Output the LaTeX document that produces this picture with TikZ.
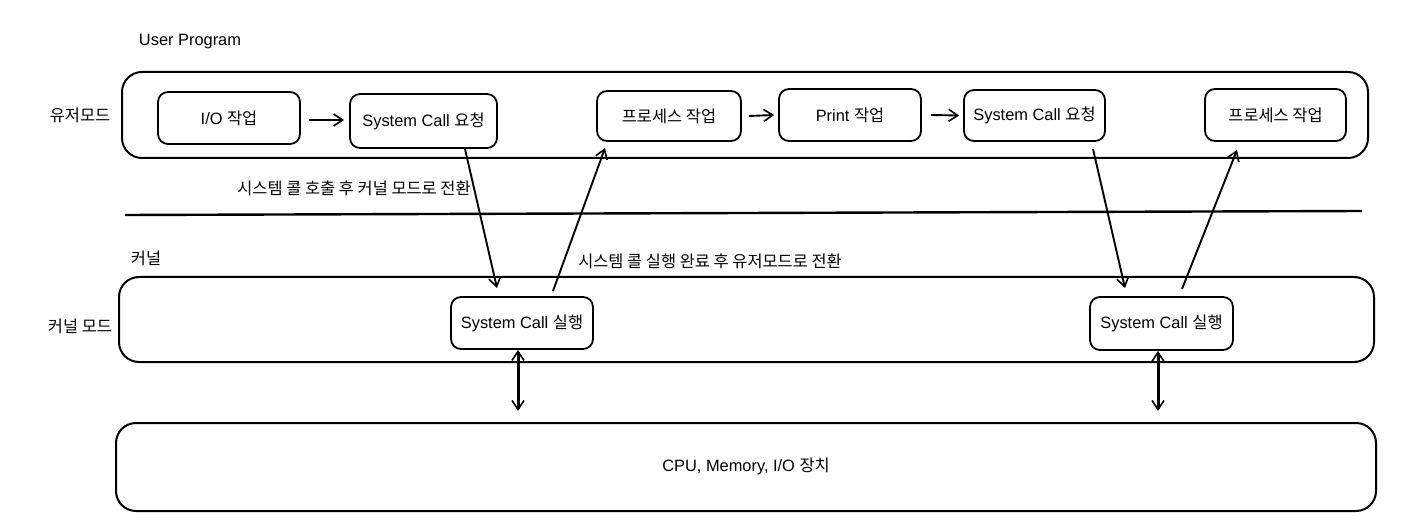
\documentclass[tikz,border=0pt]{standalone}
\usepackage{fontspec}
\setmainfont{Liberation Sans}
\newfontfamily\kr{Noto Sans CJK KR}
\usetikzlibrary{arrows.meta,calc}
\begin{document}
\begin{tikzpicture}[x=1pt,y=-1pt,
  every node/.style={font=\fontsize{16.4}{18}\selectfont, text=black},
  lane/.style={draw, line width=2pt, rounded corners=20pt, inner sep=0pt},
  task/.style={draw, line width=1.8pt, rounded corners=10pt, inner sep=0pt},
  lbl/.style={inner sep=0pt},
  arr/.style={line width=1.9pt, -{Straight Barb[length=9pt,width=12pt,line width=1.6pt]}},
  darr/.style={line width=3pt, {Straight Barb[length=9pt,width=12pt,line width=1.6pt]}-{Straight Barb[length=9pt,width=12pt,line width=1.6pt]}}
]
\useasboundingbox (0,0) rectangle (1402,529);
% lanes
\node[lane, minimum width=1246pt, minimum height=86pt] (user) at (745,115) {};
\node[lane, minimum width=1255pt, minimum height=85pt] (kernel) at (746.5,319.5) {};
\node[lane, minimum width=1260pt, minimum height=88pt] (hw) at (746,467) {};
\node (hwt) at (746,466) {CPU, Memory, I/O {\kr 장치}};
% labels
\node[lbl] (lup) at (190,42) {User Program};
\node[lbl] (lum) at (80,115) {\kr 유저모드};
\node[lbl] (lk) at (146,258) {\kr 커널};
\node[lbl] (lkm) at (80,326) {\kr 커널 모드};
\node[lbl] (t1) at (354,188) {\kr 시스템 콜 호출 후 커널 모드로 전환};
\node[lbl] (t2) at (710,261) {\kr 시스템 콜 실행 완료 후 유저모드로 전환};
% separator
\coordinate (sepL) at (125,215);
\coordinate (sepR) at (1362,211);
\draw[line width=2.4pt] (sepL) -- (sepR);
% tasks
\node[task, minimum width=142pt, minimum height=52pt] (io) at (229,118) {I/O {\kr 작업}};
\node[task, minimum width=147pt, minimum height=54pt] (req1) at (423.5,121) {System Call {\kr 요청}};
\node[task, minimum width=144pt, minimum height=50pt] (p1) at (669,116) {\kr 프로세스 작업};
\node[task, minimum width=142pt, minimum height=52pt] (pr) at (850,115) {Print {\kr 작업}};
\node[task, minimum width=141pt, minimum height=51pt] (req2) at (1034.5,115.5) {System Call {\kr 요청}};
\node[task, minimum width=141pt, minimum height=52pt] (p2) at (1275.5,115) {\kr 프로세스 작업};
\node[task, minimum width=142pt, minimum height=52pt] (ex1) at (522,323) {System Call {\kr 실행}};
\node[task, minimum width=143pt, minimum height=53pt] (ex2) at (1161.5,323.5) {System Call {\kr 실행}};
% horizontal arrows
\draw[arr] ([xshift=8pt,yshift=-2pt]io.east) -- ([xshift=-5pt,yshift=1pt]req1.west);
\draw[arr] ([xshift=7pt]p1.east) -- ([xshift=-4pt]pr.west);
\draw[arr] ([xshift=9pt]pr.east) -- ([xshift=-4pt]req2.west);
% slanted arrows
\coordinate (d1s) at (465,149);
\coordinate (d1e) at (497,288);
\coordinate (u1s) at (553,291);
\coordinate (u1e) at (605,148);
\coordinate (d2s) at (1093,149);
\coordinate (d2e) at (1125,288);
\coordinate (u2s) at (1182,289);
\coordinate (u2e) at (1237,150);
\draw[arr] (d1s) -- (d1e);
\draw[arr] (u1s) -- (u1e);
\draw[arr] (d2s) -- (d2e);
\draw[arr] (u2s) -- (u2e);
\draw[darr] ([xshift=-4pt]ex1.south) -- ([xshift=-4pt,yshift=-61pt]ex1.south);
\draw[darr] ([xshift=-3.5pt]ex2.south) -- ([xshift=-3.5pt,yshift=-60pt]ex2.south);
\end{tikzpicture}
\end{document}
